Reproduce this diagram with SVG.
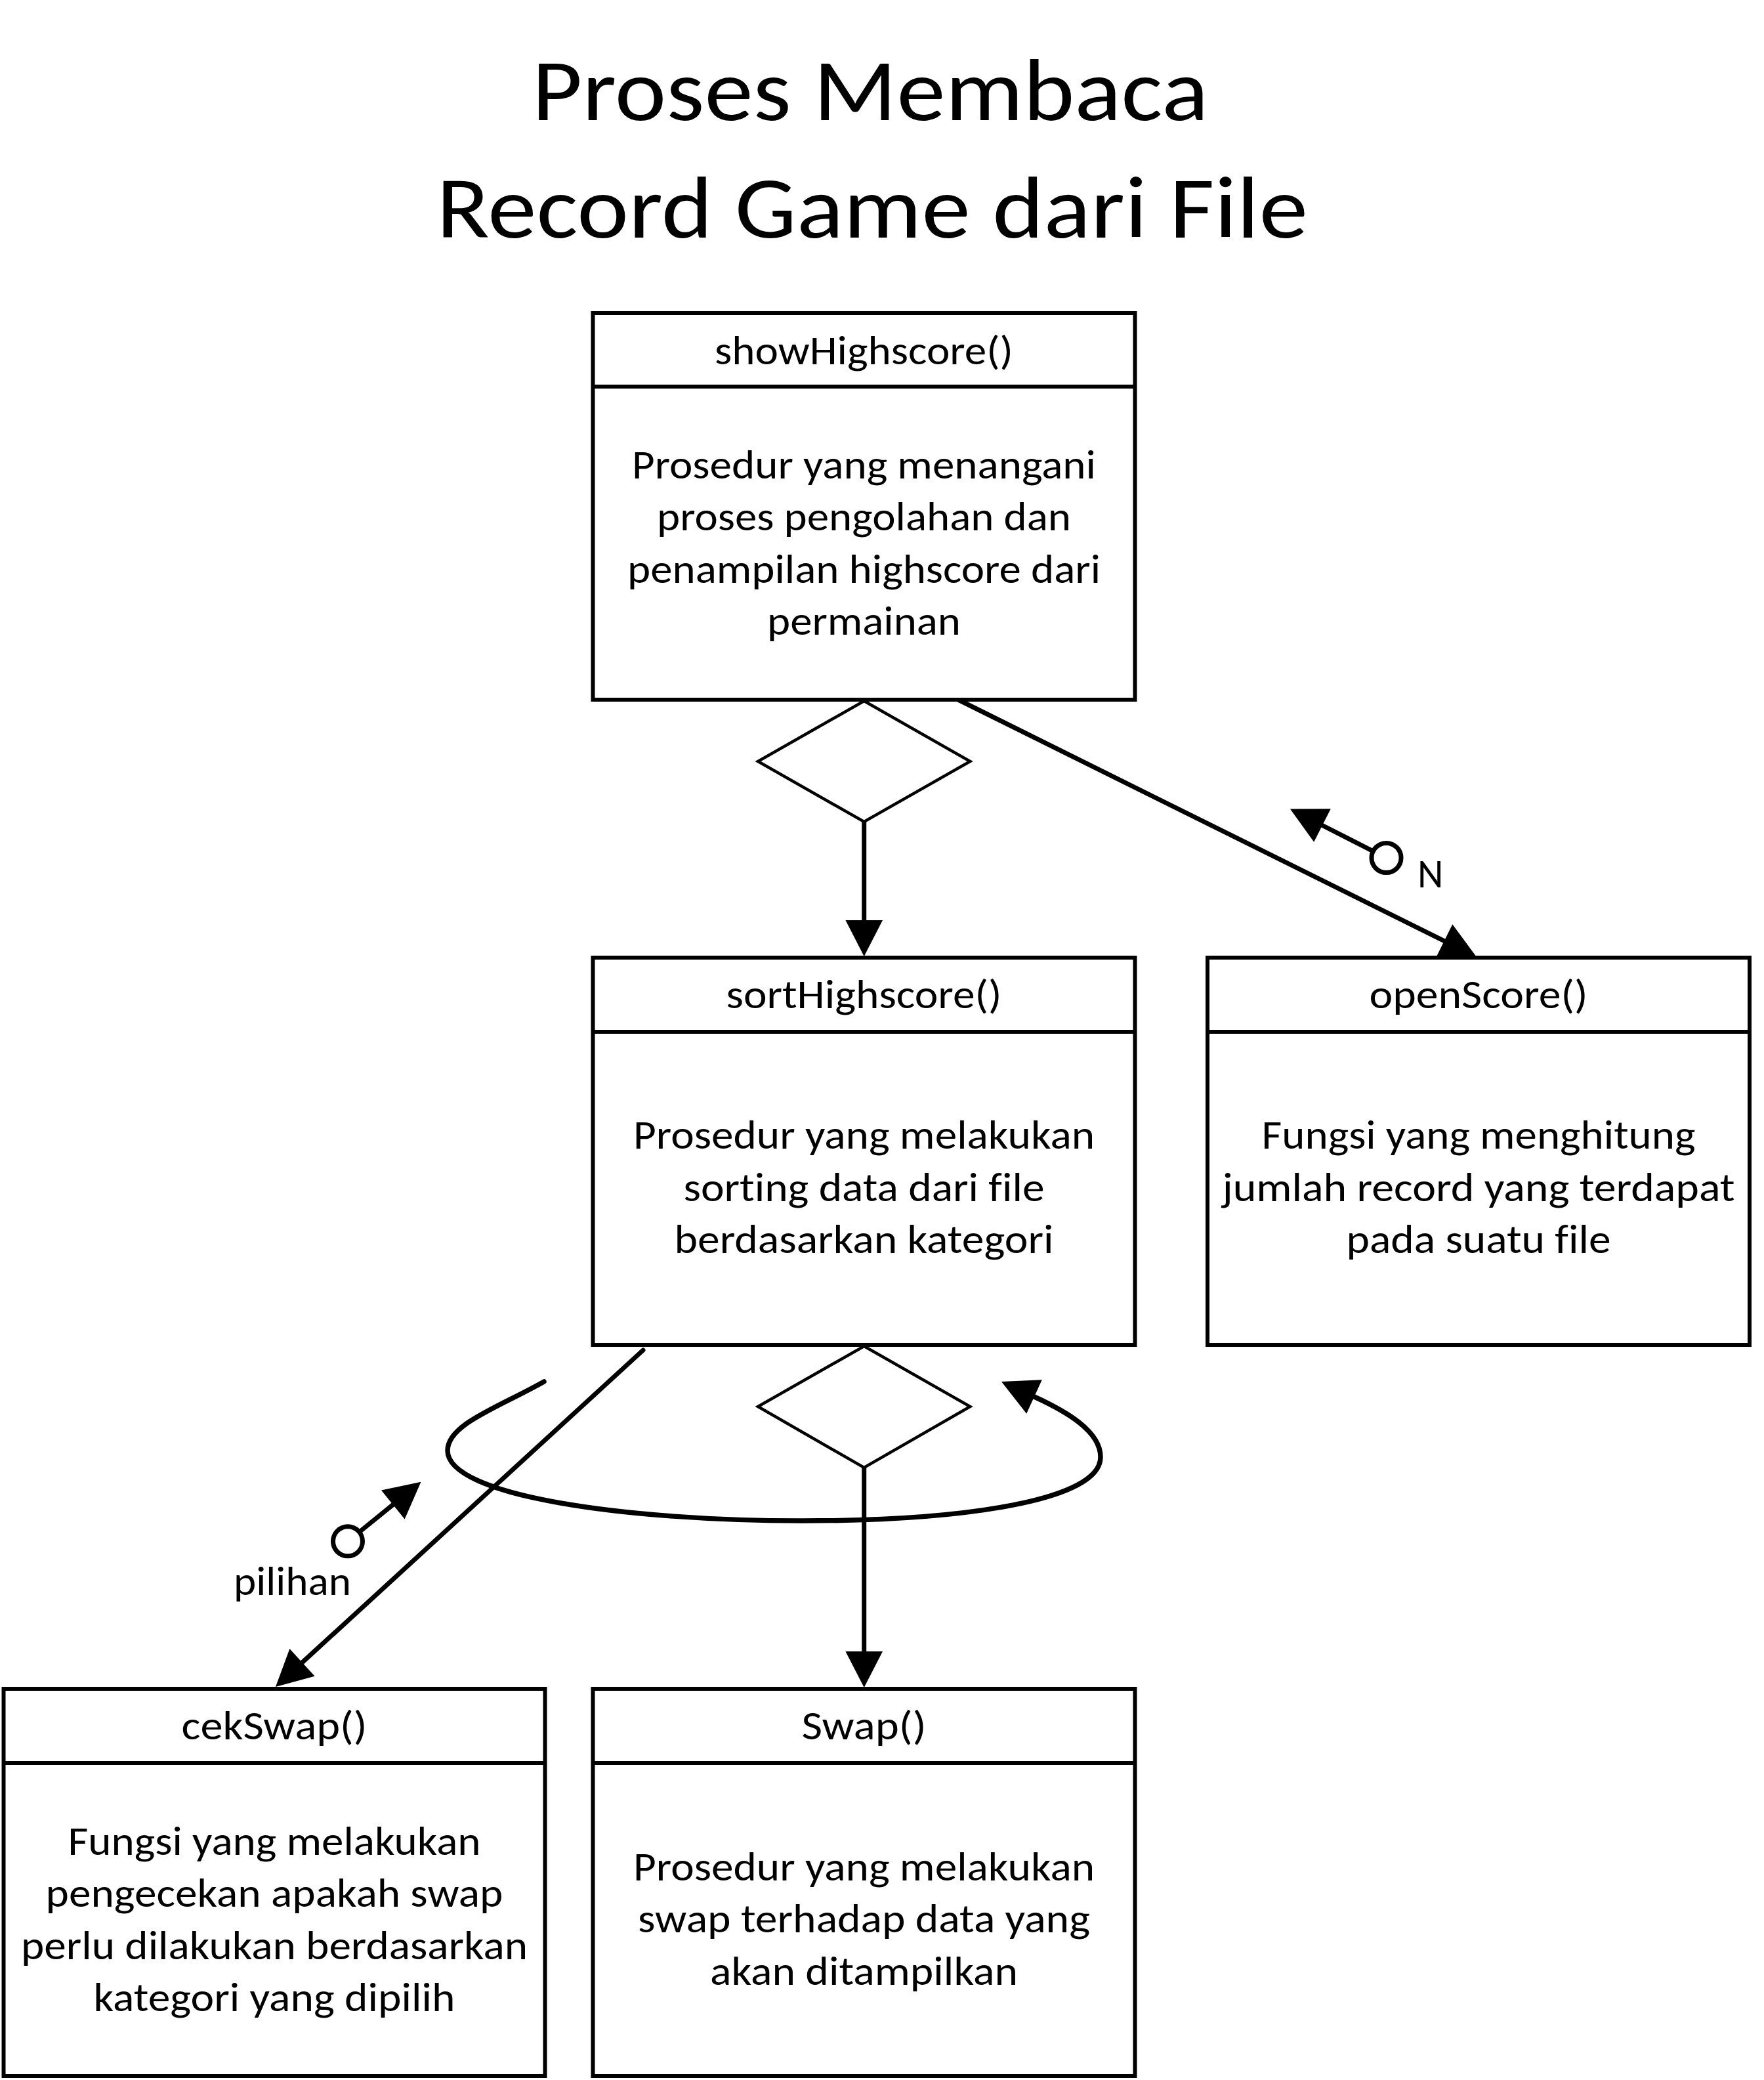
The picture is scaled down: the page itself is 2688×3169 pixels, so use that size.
<svg xmlns="http://www.w3.org/2000/svg" width="2688" height="3169" viewBox="0 0 2688 3169">
<style>
  .box{fill:#fff;stroke:#000;stroke-width:6}
  .div{stroke:#000;stroke-width:6}
  .dia{fill:#fff;stroke:#000;stroke-width:4.5;stroke-linejoin:miter}
  .con{fill:none;stroke:#000;stroke-width:7;stroke-linecap:round}
  .loop{fill:none;stroke:#000;stroke-width:7.5;stroke-linecap:round}
  .ring{fill:#fff;stroke:#000;stroke-width:7}
  text{font-variant-ligatures:none;font-feature-settings:"liga" 0,"clig" 0}
  .t{font-family:Carlito,Calibri,Lato,"Open Sans",sans-serif;font-size:61px;fill:#000;text-anchor:middle}
  .lbl{font-family:Carlito,Calibri,Lato,"Open Sans",sans-serif;font-size:61px;fill:#000}
  .title{font-family:Carlito,Calibri,Lato,"Open Sans",sans-serif;font-size:134px;fill:#000;text-anchor:middle}
</style>
<defs>
  <marker id="ah" markerUnits="userSpaceOnUse" orient="auto" refX="0" refY="0" markerWidth="60" markerHeight="60" viewBox="0 -30 60 60" overflow="visible">
    <path d="M0,-28.3 L55,0 L0,28.3 Z" fill="#000"/>
  </marker>
</defs>
<rect width="2688" height="3169" fill="#fff"/>

<g id="title">
  <text class="title" x="1326" y="183" textLength="1031" lengthAdjust="spacingAndGlyphs">Proses Membaca</text>
  <text class="title" x="1329" y="362" textLength="1328" lengthAdjust="spacingAndGlyphs">Record Game dari File</text>
</g>

<g id="connectors">
  <line class="con" x1="1316.7" y1="1252" x2="1316.7" y2="1402" marker-end="url(#ah)"/>
  <line class="con" x1="1460" y1="1066" x2="2200.7" y2="1433.6" marker-end="url(#ah)"/>
  <line class="con" x1="980" y1="2057" x2="460.5" y2="2532.9" marker-end="url(#ah)"/>
  <line class="con" x1="1316.7" y1="2236" x2="1316.7" y2="2516" marker-end="url(#ah)"/>
  <path class="loop" d="M829,2105 C758,2145 682,2170 682,2210 C682,2280 958,2317 1222,2317 C1475,2317 1677,2285 1677,2220 C1677,2180 1624,2150 1576,2128" marker-end="url(#ah)"/>
  <g id="flag-N">
    <line class="con" x1="2092.4" y1="1296.8" x2="2015" y2="1257.5" marker-end="url(#ah)"/>
    <circle class="ring" cx="2112.5" cy="1307" r="22.5"/>
    <text class="lbl" x="2160" y="1352">N</text>
  </g>
  <g id="flag-pilihan">
    <line class="con" x1="547.5" y1="2334.1" x2="598.8" y2="2292.5" marker-end="url(#ah)"/>
    <circle class="ring" cx="530" cy="2348.3" r="22.5"/>
    <text class="lbl" x="356" y="2430" textLength="179" lengthAdjust="spacingAndGlyphs">pilihan</text>
  </g>
</g>

<g id="diamond1">
  <polygon class="dia" points="1316.7,1068 1478.3,1160 1316.7,1252 1155,1160"/>
</g>
<g id="diamond2">
  <polygon class="dia" points="1316.7,2051 1478.3,2143 1316.7,2236 1155,2143"/>
</g>

<g id="showHighscore">
  <rect class="box" x="903.5" y="477" width="826" height="589"/>
  <line class="div" x1="903.5" y1="589" x2="1729.5" y2="589"/>
  <text class="t" x="1316.5" y="555" textLength="455" lengthAdjust="spacingAndGlyphs">showHighscore()</text>
  <text class="t" x="1316.5" y="729" textLength="707" lengthAdjust="spacingAndGlyphs">Prosedur yang menangani</text>
  <text class="t" x="1316.5" y="808" textLength="631" lengthAdjust="spacingAndGlyphs">proses pengolahan dan</text>
  <text class="t" x="1316.5" y="888" textLength="721" lengthAdjust="spacingAndGlyphs">penampilan highscore dari</text>
  <text class="t" x="1316.5" y="967" textLength="295" lengthAdjust="spacingAndGlyphs">permainan</text>
</g>

<g id="sortHighscore">
  <rect class="box" x="903.5" y="1459" width="826" height="590"/>
  <line class="div" x1="903.5" y1="1572" x2="1729.5" y2="1572"/>
  <text class="t" x="1316.5" y="1536" textLength="420" lengthAdjust="spacingAndGlyphs">sortHighscore()</text>
  <text class="t" x="1316.5" y="1750" textLength="703" lengthAdjust="spacingAndGlyphs">Prosedur yang melakukan</text>
  <text class="t" x="1316.5" y="1830" textLength="550" lengthAdjust="spacingAndGlyphs">sorting data dari file</text>
  <text class="t" x="1316.5" y="1909" textLength="578" lengthAdjust="spacingAndGlyphs">berdasarkan kategori</text>
</g>

<g id="openScore">
  <rect class="box" x="1840" y="1459" width="826" height="590"/>
  <line class="div" x1="1840" y1="1572" x2="2666" y2="1572"/>
  <text class="t" x="2253" y="1536" textLength="333" lengthAdjust="spacingAndGlyphs">openScore()</text>
  <text class="t" x="2253" y="1750" textLength="661" lengthAdjust="spacingAndGlyphs">Fungsi yang menghitung</text>
  <text class="t" x="2253" y="1830" textLength="781" lengthAdjust="spacingAndGlyphs">jumlah record yang terdapat</text>
  <text class="t" x="2253" y="1909" textLength="403" lengthAdjust="spacingAndGlyphs">pada suatu file</text>
</g>

<g id="cekSwap">
  <rect class="box" x="5.5" y="2573" width="825" height="590"/>
  <line class="div" x1="5.5" y1="2686" x2="830.5" y2="2686"/>
  <text class="t" x="418" y="2650" textLength="283" lengthAdjust="spacingAndGlyphs">cekSwap()</text>
  <text class="t" x="418" y="2826" textLength="629" lengthAdjust="spacingAndGlyphs">Fungsi yang melakukan</text>
  <text class="t" x="418" y="2905" textLength="697" lengthAdjust="spacingAndGlyphs">pengecekan apakah swap</text>
  <text class="t" x="418" y="2985" textLength="772" lengthAdjust="spacingAndGlyphs">perlu dilakukan berdasarkan</text>
  <text class="t" x="418" y="3064" textLength="551" lengthAdjust="spacingAndGlyphs">kategori yang dipilih</text>
</g>

<g id="Swap">
  <rect class="box" x="903.5" y="2573" width="826" height="590"/>
  <line class="div" x1="903.5" y1="2686" x2="1729.5" y2="2686"/>
  <text class="t" x="1316.5" y="2650" textLength="190" lengthAdjust="spacingAndGlyphs">Swap()</text>
  <text class="t" x="1316.5" y="2865" textLength="703" lengthAdjust="spacingAndGlyphs">Prosedur yang melakukan</text>
  <text class="t" x="1316.5" y="2944" textLength="689" lengthAdjust="spacingAndGlyphs">swap terhadap data yang</text>
  <text class="t" x="1316.5" y="3024" textLength="469" lengthAdjust="spacingAndGlyphs">akan ditampilkan</text>
</g>
</svg>
